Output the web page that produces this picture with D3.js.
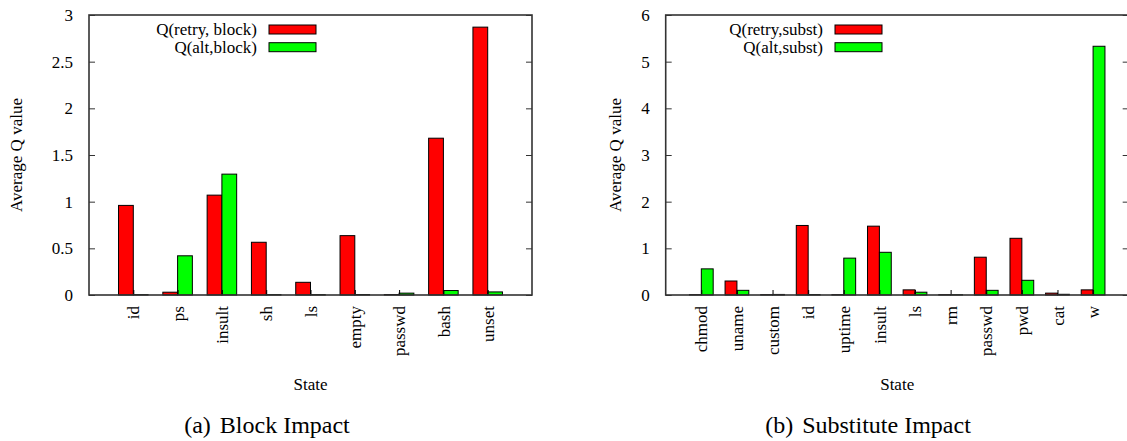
<!DOCTYPE html>
<html>
<head>
<meta charset="utf-8">
<script src="https://cdn.jsdelivr.net/npm/d3@7"></script>
<style>
  body { margin: 0; background: #fff; }
  svg { display: block; }
</style>
</head>
<body>
<div id="chart"></div>
<script>
// (a) block impact
var blockStates = ['id', 'ps', 'insult', 'sh', 'ls', 'empty', 'passwd', 'bash', 'unset'];
var blockRetry = [0.96, 0.03, 1.07, 0.565, 0.136, 0.636, 0.005, 1.68, 2.87];
var blockAlt = [0.004, 0.42, 1.295, 0.004, 0.004, 0.005, 0.02, 0.048, 0.033];
var blockTicks = [0, 0.5, 1, 1.5, 2, 2.5, 3];

// (b) substitute impact
var substStates = ['chmod', 'uname', 'custom', 'id', 'uptime', 'insult', 'ls', 'rm', 'passwd', 'pwd', 'cat', 'w'];
var substRetry = [0.008, 0.3, 0.008, 1.49, 0.008, 1.475, 0.11, 0.008, 0.81, 1.215, 0.04, 0.11];
var substAlt = [0.56, 0.1, 0.012, 0.01, 0.79, 0.915, 0.06, 0.006, 0.1, 0.315, 0.015, 5.33];
var substTicks = [0, 1, 2, 3, 4, 5, 6];

var W = 1127, H = 441;
var FONT = "'Liberation Serif', 'Times New Roman', Times, serif";

var svg = d3.select('#chart')
    .append('svg')
    .attr('width', W)
    .attr('height', H);

function serif(sel, size) {
    sel.style('font-family', FONT)
        .style('font-size', size + 'px')
        .attr('fill', '#000');
}

function drawPanel(cfg) {
    var n = cfg.states.length;
    var x = d3.scaleLinear()
        .domain([-1, n])
        .range([cfg.left, cfg.left + cfg.width]);
    var y = d3.scaleLinear()
        .domain([0, cfg.ymax])
        .range([cfg.bottom, cfg.top]);
    var bw = 1 / 3;

    var g = svg.append('g');

    // bars
    g.selectAll('rect.retry')
        .data(cfg.retry)
        .enter()
        .append('rect')
        .attr('class', 'retry')
        .attr('x', function(d, i) { return x(i - bw); })
        .attr('width', function(d, i) { return x(i) - x(i - bw); })
        .attr('y', function(d) { return y(d); })
        .attr('height', function(d) { return y(0) - y(d); })
        .attr('fill', '#ff0000')
        .attr('stroke', '#000')
        .attr('stroke-width', 1);

    g.selectAll('rect.alt')
        .data(cfg.alt)
        .enter()
        .append('rect')
        .attr('class', 'alt')
        .attr('x', function(d, i) { return x(i); })
        .attr('width', function(d, i) { return x(i + bw) - x(i); })
        .attr('y', function(d) { return y(d); })
        .attr('height', function(d) { return y(0) - y(d); })
        .attr('fill', '#00ff00')
        .attr('stroke', '#000')
        .attr('stroke-width', 1);

    // y axis, ticks inside, mirrored on the right
    var yAxis = d3.axisLeft(y)
        .tickValues(cfg.ticks)
        .tickSizeInner(-6)
        .tickSizeOuter(0)
        .tickPadding(16)
        .tickFormat(function(d) { return String(d); });
    var ya = g.append('g')
        .attr('transform', 'translate(' + cfg.left + ',0)')
        .call(yAxis);
    ya.select('.domain').remove();
    serif(ya.selectAll('text'), 17);
    ya.selectAll('line').attr('stroke', '#333');

    var yRight = d3.axisRight(y)
        .tickValues(cfg.ticks)
        .tickSizeInner(-6)
        .tickSizeOuter(0)
        .tickFormat('');
    var yr = g.append('g')
        .attr('transform', 'translate(' + (cfg.left + cfg.width) + ',0)')
        .call(yRight);
    yr.select('.domain').remove();
    yr.selectAll('line').attr('stroke', '#333');

    // x axis, small ticks at cluster centres, rotated labels
    var xAxis = d3.axisBottom(x)
        .tickValues(d3.range(n))
        .tickSizeInner(-5)
        .tickSizeOuter(0)
        .tickFormat(function(d) { return cfg.states[d]; });
    var xa = g.append('g')
        .attr('transform', 'translate(0,' + cfg.bottom + ')')
        .call(xAxis);
    xa.select('.domain').remove();
    xa.selectAll('line').attr('stroke', '#000');
    serif(xa.selectAll('text'), 17);
    xa.selectAll('text')
        .attr('text-anchor', 'end')
        .attr('transform', 'rotate(-90)')
        .attr('x', -11)
        .attr('y', 0)
        .attr('dy', '0.33em');

    // border
    g.append('rect')
        .attr('x', cfg.left)
        .attr('y', cfg.top)
        .attr('width', cfg.width)
        .attr('height', cfg.bottom - cfg.top)
        .attr('fill', 'none')
        .attr('stroke', '#333')
        .attr('stroke-width', 1.6);

    // axis titles
    g.append('text')
        .attr('transform', 'translate(' + cfg.ytitleX + ',' + ((cfg.top + cfg.bottom) / 2) + ') rotate(-90)')
        .attr('text-anchor', 'middle')
        .call(serif, 17)
        .text('Average Q value');

    g.append('text')
        .attr('x', (x(-1) + x(n)) / 2)
        .attr('y', 390)
        .attr('text-anchor', 'middle')
        .call(serif, 17)
        .text('State');

    // legend
    var legend = g.append('g');
    cfg.legend.forEach(function(label, i) {
        var cy = 29.5 + i * 17.7;
        legend.append('text')
            .attr('x', cfg.legendX)
            .attr('y', cy)
            .attr('dy', '0.33em')
            .attr('text-anchor', 'end')
            .call(serif, 17)
            .text(label);
        legend.append('rect')
            .attr('x', cfg.legendX + 12)
            .attr('y', cy - 4.5)
            .attr('width', 47)
            .attr('height', 9)
            .attr('fill', i === 0 ? '#ff0000' : '#00ff00')
            .attr('stroke', '#000')
            .attr('stroke-width', 1);
    });

    // caption
    var cap = g.append('text')
        .attr('x', cfg.captionX)
        .attr('y', 433)
        .attr('text-anchor', 'middle')
        .call(serif, 24);
    cap.append('tspan').text(cfg.captionTag);
    cap.append('tspan').attr('dx', 9).text(cfg.captionText);
}

drawPanel({
    states: blockStates, retry: blockRetry, alt: blockAlt, ticks: blockTicks,
    ymax: 3, left: 89, width: 443, top: 15, bottom: 295,
    ytitleX: 22, legendX: 257,
    legend: ['Q(retry, block)', 'Q(alt,block)'],
    captionX: 267, captionTag: '(a)', captionText: 'Block Impact'
});

drawPanel({
    states: substStates, retry: substRetry, alt: substAlt, ticks: substTicks,
    ymax: 6, left: 665.7, width: 463, top: 15, bottom: 295,
    ytitleX: 621, legendX: 823,
    legend: ['Q(retry,subst)', 'Q(alt,subst)'],
    captionX: 868, captionTag: '(b)', captionText: 'Substitute Impact'
});
</script>
</body>
</html>
